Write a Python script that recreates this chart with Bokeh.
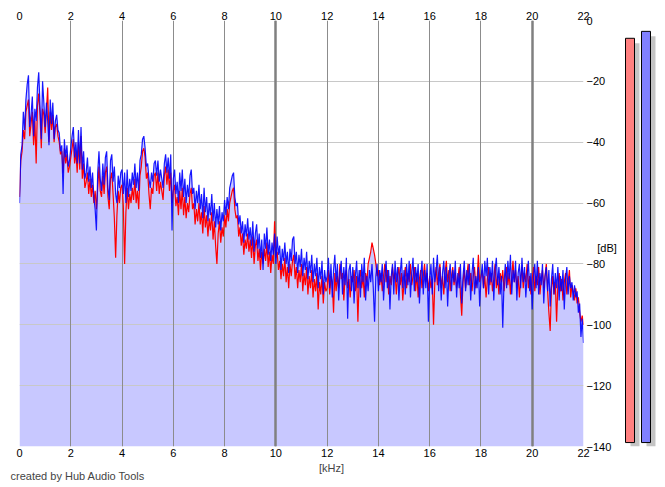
import numpy as np
from bokeh.plotting import figure
from bokeh.models import Range1d, LinearAxis, FixedTicker, Grid, Label
from bokeh.layouts import row, column
from bokeh.embed import file_html
from bokeh.resources import INLINE

# ---------------- data ----------------
x_ticks = [0, 2, 4, 6, 8, 10, 12, 14, 16, 18, 20, 22]
x_major = [0, 10, 20]
y_ticks = [0, -20, -40, -60, -80, -100, -120, -140]

# spectrum levels in dB, one value every 0.05 kHz from 0 to 22 kHz
blue_db = [
    -60, -44, -41, -30, -36, -26, -21, -18, -35, -31, -25, -38, -29, -33, -22, -17, -28, -39, -20, -27,
    -35, -27, -33, -41, -26, -34, -27, -39, -33, -31, -36, -37, -43, -41, -57, -39, -45, -41, -48, -46,
    -42, -38, -35, -45, -40, -47, -36, -47, -35, -49, -43, -52, -50, -45, -53, -48, -55, -50, -58, -62,
    -69, -50, -43, -52, -56, -47, -54, -45, -43, -55, -59, -46, -44, -53, -48, -57, -60, -51, -55, -50,
    -49, -57, -50, -60, -49, -58, -52, -56, -50, -54, -47, -55, -50, -56, -46, -44, -39, -38, -42, -48,
    -47, -52, -55, -50, -53, -47, -46, -51, -46, -53, -49, -52, -55, -47, -44, -50, -45, -52, -44, -69,
    -52, -49, -57, -53, -60, -50, -56, -49, -58, -52, -60, -54, -58, -51, -49, -57, -55, -62, -56, -60,
    -54, -62, -57, -65, -55, -63, -58, -66, -60, -64, -57, -66, -60, -68, -62, -67, -61, -69, -63, -66,
    -59, -64, -58, -62, -55, -53, -51, -50, -58, -61, -60, -67, -64, -70, -66, -73, -67, -71, -65, -72,
    -68, -74, -66, -76, -70, -67, -75, -70, -78, -72, -82, -70, -75, -68, -77, -72, -79, -73, -77, -70,
    -80, -71, -77, -74, -82, -75, -79, -73, -80, -76, -83, -75, -79, -72, -71, -80, -76, -83, -77, -81,
    -75, -84, -78, -82, -76, -85, -79, -83, -77, -86, -80, -84, -78, -88, -81, -85, -79, -90, -82, -86,
    -84, -78, -88, -80, -91, -82, -77, -86, -80, -92, -83, -79, -90, -81, -87, -78, -98, -82, -80, -89,
    -81, -93, -84, -79, -88, -82, -91, -80, -86, -78, -92, -84, -89, -82, -86, -80, -88, -99, -84, -80,
    -89, -82, -86, -80, -92, -84, -79, -88, -82, -95, -84, -80, -90, -79, -86, -81, -92, -83, -78, -88,
    -82, -90, -80, -87, -79, -91, -83, -78, -89, -81, -86, -80, -93, -84, -79, -90, -82, -88, -80, -99,
    -85, -80, -90, -78, -86, -82, -77, -89, -81, -92, -83, -79, -88, -81, -94, -84, -80, -89, -82, -86,
    -79, -91, -83, -88, -80, -93, -84, -79, -89, -82, -87, -80, -92, -83, -78, -90, -84, -88, -81, -94,
    -85, -80, -88, -79, -84, -78, -90, -81, -86, -79, -92, -82, -78, -87, -81, -90, -84, -101, -86, -80,
    -88, -79, -85, -77, -90, -82, -86, -79, -92, -83, -80, -88, -78, -86, -81, -91, -84, -79, -89, -83,
    -95, -84, -80, -88, -79, -90, -83, -87, -80, -93, -84, -81, -89, -82, -94, -85, -80, -90, -83, -88,
    -81, -92, -84, -89, -82, -95, -85, -81, -90, -84, -88, -86, -92, -87, -91, -89, -96, -93, -104, -98, -106,
]

red_db = [
    -58, -46, -43, -36, -39, -30, -28, -26, -38, -34, -30, -41, -33, -47, -28, -24, -31, -42, -29, -31,
    -37, -30, -22, -40, -30, -36, -31, -40, -35, -34, -38, -40, -44, -43, -50, -42, -47, -44, -50, -48,
    -45, -42, -39, -47, -43, -50, -40, -49, -38, -52, -47, -55, -53, -50, -57, -52, -58, -54, -60, -56,
    -62, -55, -48, -56, -58, -51, -57, -50, -48, -58, -62, -52, -50, -57, -65, -78, -64, -56, -60, -55,
    -54, -61, -80, -63, -55, -62, -57, -60, -55, -59, -52, -60, -56, -62, -51, -48, -43, -42, -45, -52,
    -50, -57, -62, -55, -57, -51, -50, -56, -50, -57, -53, -56, -59, -51, -48, -54, -49, -56, -50, -60,
    -56, -54, -61, -58, -64, -56, -62, -55, -64, -58, -65, -60, -63, -57, -55, -62, -60, -67, -62, -66,
    -60, -67, -63, -70, -61, -68, -64, -71, -65, -69, -63, -72, -66, -74, -80, -70, -66, -73, -68, -71,
    -64, -68, -62, -66, -60, -58, -56, -55, -62, -65, -64, -71, -68, -74, -70, -77, -72, -75, -70, -76,
    -72, -78, -71, -80, -74, -72, -79, -75, -82, -76, -80, -75, -79, -73, -81, -76, -83, -77, -80, -66,
    -78, -76, -82, -79, -85, -80, -84, -78, -86, -81, -88, -80, -84, -79, -77, -85, -81, -88, -82, -86,
    -80, -89, -83, -87, -81, -90, -84, -88, -82, -91, -85, -89, -83, -95, -86, -90, -84, -93, -86, -89,
    -88, -82, -90, -84, -86, -96, -83, -89, -84, -88, -80, -85, -83, -92, -84, -82, -88, -85, -91, -84,
    -86, -82, -89, -84, -99, -85, -82, -88, -84, -91, -83, -86, -80, -78, -76, -73, -75, -77, -80, -84,
    -82, -87, -83, -89, -84, -80, -86, -82, -90, -84, -87, -81, -85, -83, -90, -84, -81, -87, -83, -92,
    -86, -81, -88, -83, -86, -80, -87, -84, -81, -89, -83, -91, -85, -82, -88, -84, -80, -86, -83, -89,
    -84, -88, -85, -100, -86, -81, -87, -83, -80, -88, -84, -90, -83, -79, -86, -82, -89, -84, -81, -87,
    -83, -88, -85, -81, -90, -97, -86, -82, -88, -84, -80, -87, -83, -89, -84, -81, -88, -85, -77, -86,
    -84, -82, -88, -84, -91, -85, -81, -87, -83, -89, -85, -80, -88, -84, -90, -83, -86, -82, -89, -84,
    -81, -87, -83, -90, -84, -79, -86, -82, -88, -84, -91, -85, -81, -88, -83, -86, -80, -88, -84, -90,
    -85, -81, -89, -84, -87, -81, -90, -85, -82, -88, -84, -80, -89, -96, -102, -88, -84, -90, -86, -99,
    -87, -83, -89, -85, -92, -86, -83, -90, -86, -82, -91, -87, -89, -92, -88, -93, -91, -96, -99, -97, -100,
]

freq_khz = [round(i * 0.05, 2) for i in range(len(blue_db))]

meter_channels = [0, 1]
meter_peak_db = [-5.9, -3.6]
meter_colors = ["#ff8080", "#8080ff"]

# ---------------- styling ----------------
FONT = "Liberation Sans"
FSIZE = "11px"

MAIN_W, MAIN_H = 620, 461

p = figure(width=MAIN_W, height=MAIN_H,
           x_range=Range1d(0, 22), y_range=Range1d(-140, 0),
           output_backend="svg", toolbar_location=None,
           x_axis_location=None, y_axis_location=None,
           min_border_left=19, min_border_right=37,
           min_border_top=20, min_border_bottom=15)
p.outline_line_color = None
p.background_fill_color = "white"
p.border_fill_color = "white"
# hide the default grids created with the (hidden) default axes
p.grid.visible = False


def style_axis(ax, standoff):
    ax.axis_line_color = None
    ax.major_tick_line_color = None
    ax.minor_tick_line_color = None
    ax.major_tick_in = 0
    ax.major_tick_out = 0
    ax.minor_tick_in = 0
    ax.minor_tick_out = 0
    ax.major_label_standoff = standoff
    ax.major_label_text_font = FONT
    ax.major_label_text_font_size = FSIZE
    ax.major_label_text_color = "black"
    return ax


top_ax = style_axis(LinearAxis(ticker=FixedTicker(ticks=x_ticks)), 1)
bot_ax = style_axis(LinearAxis(ticker=FixedTicker(ticks=x_ticks)), 2)
right_ax = style_axis(LinearAxis(ticker=FixedTicker(ticks=y_ticks)), 3)
right_ax.axis_label = "\n\n[dB]"
right_ax.axis_label_orientation = "horizontal"
right_ax.axis_label_standoff = -17
right_ax.axis_label_text_baseline = "top"
right_ax.axis_label_text_font = FONT
right_ax.axis_label_text_font_size = FSIZE
right_ax.axis_label_text_font_style = "normal"
right_ax.axis_label_text_color = "black"
p.add_layout(top_ax, "above")
p.add_layout(bot_ax, "below")
p.add_layout(right_ax, "right")

# grids
p.add_layout(Grid(dimension=1, ticker=FixedTicker(ticks=y_ticks),
                  grid_line_color="#c8c8c8", grid_line_width=1))
p.add_layout(Grid(dimension=0, ticker=FixedTicker(ticks=x_ticks),
                  grid_line_color="#8c8c8c", grid_line_width=1))
p.add_layout(Grid(dimension=0, ticker=FixedTicker(ticks=x_major),
                  grid_line_color="#808080", grid_line_width=2.5))

# fill under the spectrum (single closed polygon)
fill_top = np.maximum(np.array(blue_db), np.array(red_db))
poly_x = freq_khz + [freq_khz[-1], freq_khz[0]]
poly_y = list(fill_top) + [-140, -140]
p.patch(poly_x, poly_y, fill_color="#c8c8ff", line_color=None, level="image")

p.line(freq_khz, red_db, line_color="#ff0000", line_width=1.2)
p.line(freq_khz, blue_db, line_color="#0000ff", line_width=1.2, line_alpha=0.9)

# ---------------- level meters ----------------
bar_w = 0.5625
shadow_dx = 0.3125
shadow_dy = 1.64
m = figure(width=37, height=MAIN_H,
           x_range=Range1d(-0.594, 1.719), y_range=Range1d(-141.31, 0),
           output_backend="svg", toolbar_location=None,
           x_axis_location=None, y_axis_location=None,
           min_border_left=0, min_border_right=0,
           min_border_top=20, min_border_bottom=10)
m.outline_line_color = None
m.grid.visible = False
m.vbar(x=[c + shadow_dx for c in meter_channels], width=bar_w,
       top=[v - shadow_dy for v in meter_peak_db], bottom=-141.31,
       fill_color="#c4c4c4", line_color=None)
m.vbar(x=meter_channels, width=bar_w, top=meter_peak_db, bottom=-140,
       fill_color=meter_colors, line_color="black", line_width=1)

# ---------------- footer texts (same kHz scale as the plot) ----------------
FOOT_W, FOOT_H = 657, 26
px_per_khz = 564 / 22
f = figure(width=FOOT_W, height=FOOT_H,
           x_range=Range1d(-19 / px_per_khz, (FOOT_W - 19) / px_per_khz),
           y_range=Range1d(0, FOOT_H),
           output_backend="svg", toolbar_location=None,
           x_axis_location=None, y_axis_location=None,
           min_border_left=0, min_border_right=0,
           min_border_top=0, min_border_bottom=0)
f.outline_line_color = None
f.grid.visible = False
f.add_layout(Label(x=12.17, y=FOOT_H - 6, text="[kHz]", text_align="center",
                   text_baseline="middle", text_font=FONT, text_font_size=FSIZE))
f.add_layout(Label(x=-0.35, y=FOOT_H - 14, text="created by Hub Audio Tools",
                   text_align="left", text_baseline="middle",
                   text_font=FONT, text_font_size=FSIZE))

layout = column(row(p, m), f)
open("out.html", "w").write(file_html(layout, INLINE))
